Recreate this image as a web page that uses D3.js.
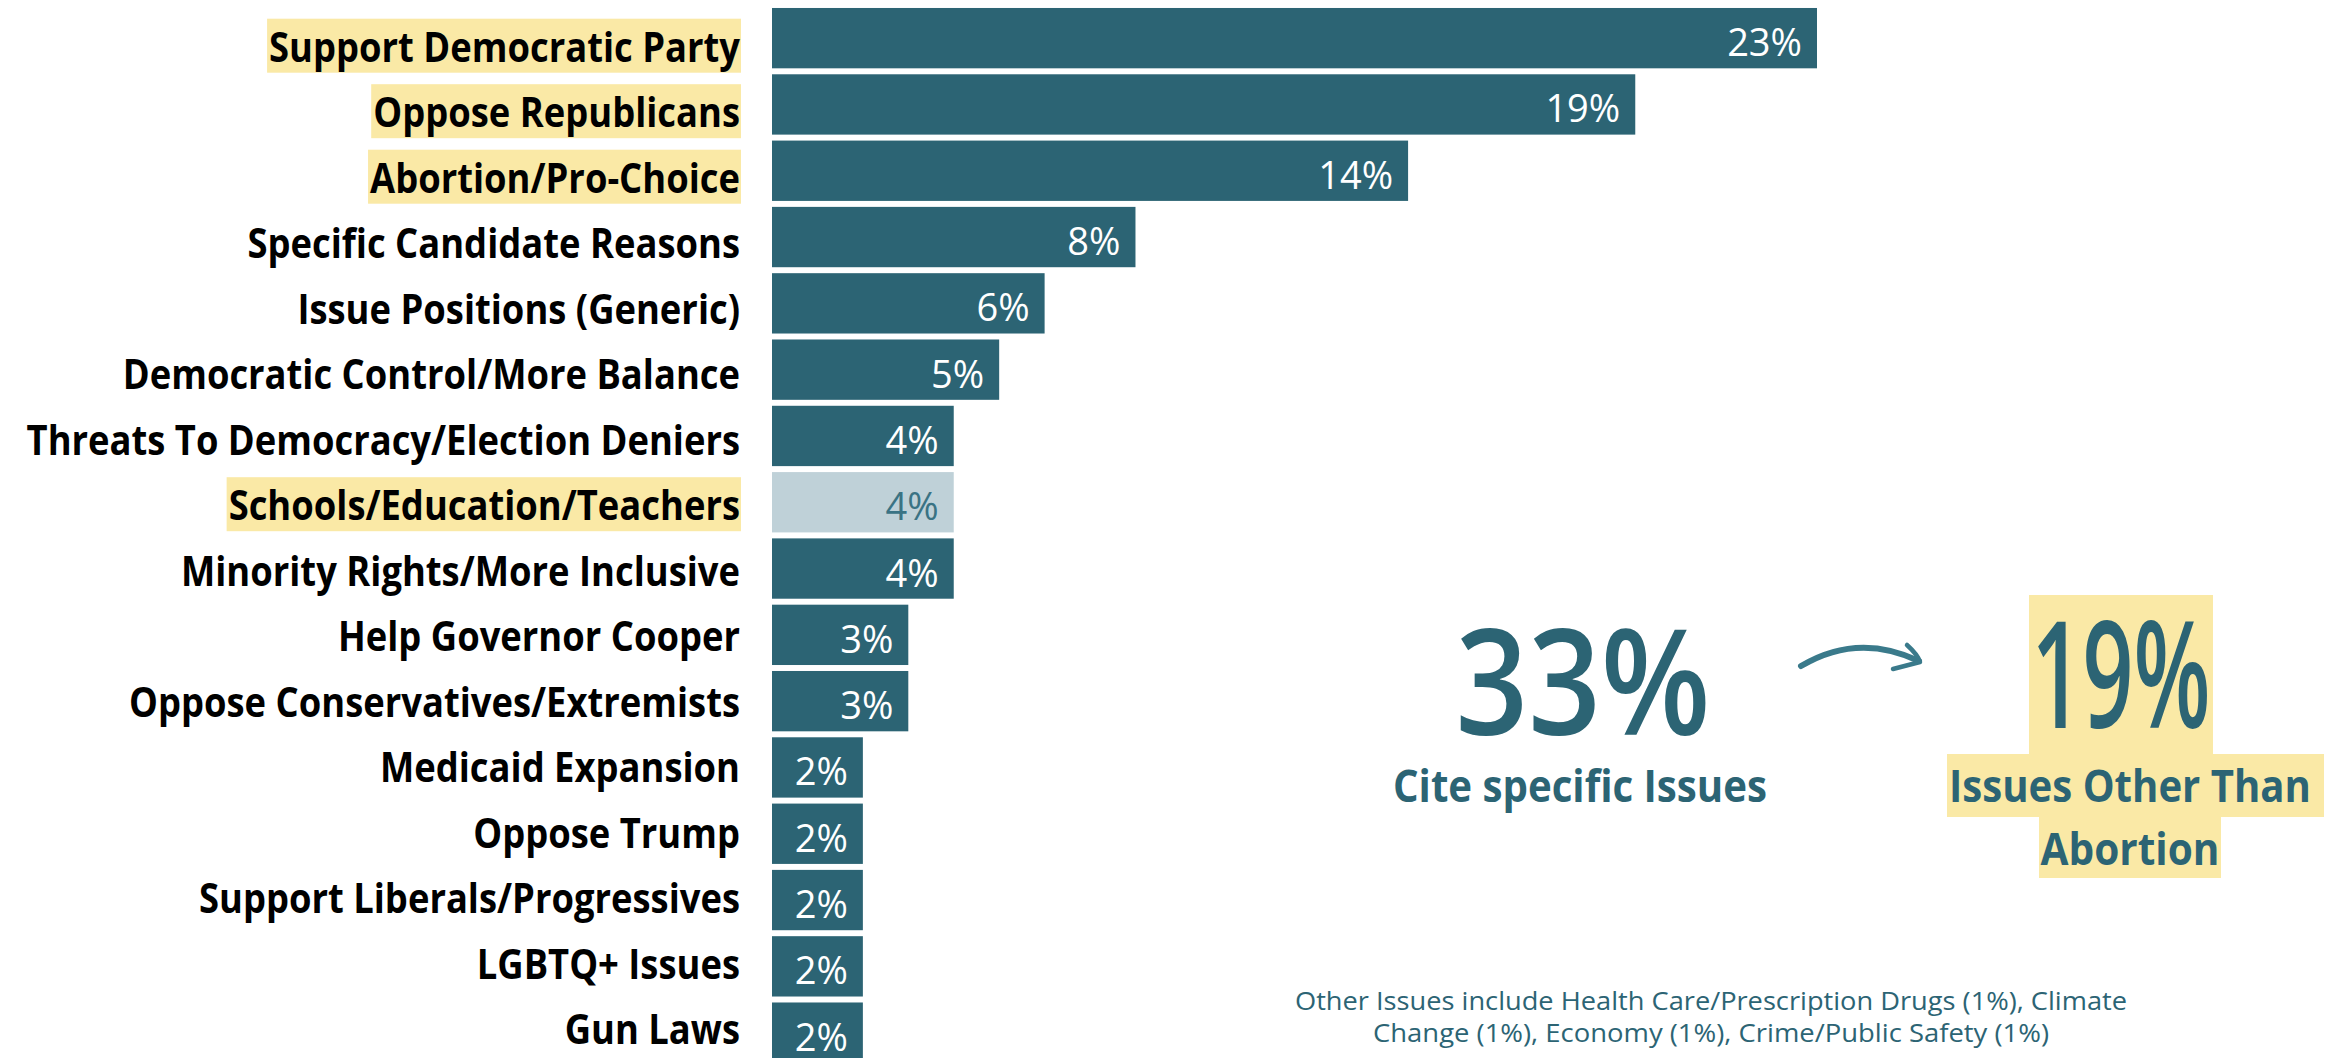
<!DOCTYPE html>
<html><head><meta charset="utf-8">
<script src="https://cdn.jsdelivr.net/npm/d3@7"></script>
<style>html,body{margin:0;padding:0;background:#fff;overflow:hidden}</style>
</head><body>
<script>
const categories = ["Support Democratic Party","Oppose Republicans","Abortion/Pro-Choice","Specific Candidate Reasons","Issue Positions (Generic)","Democratic Control/More Balance","Threats To Democracy/Election Deniers","Schools/Education/Teachers","Minority Rights/More Inclusive","Help Governor Cooper","Oppose Conservatives/Extremists","Medicaid Expansion","Oppose Trump","Support Liberals/Progressives","LGBTQ+ Issues","Gun Laws"];
const values = [23,19,14,8,6,5,4,4,4,3,3,2,2,2,2,2];
const highlighted = ["Support Democratic Party","Oppose Republicans","Abortion/Pro-Choice","Schools/Education/Teachers"];
const lightBars = ["Schools/Education/Teachers"];
const bigStat1 = "33%", bigStat1Label = "Cite specific Issues";
const bigStat2 = "19%", bigStat2Label = ["Issues Other Than","Abortion"];
const footnote = ["Other Issues include Health Care/Prescription Drugs (1%), Climate","Change (1%), Economy (1%), Crime/Public Safety (1%)"];

const W = 2339, H = 1058;
const TEAL = "#2C6474", LIGHT = "#BFD1D8", HL = "#FAE9A6";
const svg = d3.select("body").append("svg").attr("width", W).attr("height", H);

const x = d3.scaleLinear().domain([0, 23]).range([772, 1817]);
const step = 66.3;
const y = d3.scaleBand().domain(categories).range([5, 5 + step * 16]).paddingInner(0.09).paddingOuter(0.045);
// label baselines follow their own (slightly tighter) spacing
const yLab = d3.scalePoint().domain(categories).range([61.7, 1044.2]);
const data = categories.map((c, i) => ({c, v: values[i]}));

// labels
const labelG = svg.append("g");
const hlG = labelG.append("g");
const labels = labelG.selectAll("text.lab").data(data).join("text")
  .attr("class", "lab")
  .attr("text-anchor", "end")
  .style("font-family", "'Open Sans', sans-serif")
  .style("font-weight", 700)
  .style("font-size", "41px")
  .attr("fill", "#000")
  .text(d => d.c);
const w0 = labels.filter((d, i) => i === 0).node().getComputedTextLength();
const k = 471 / w0;
labels.attr("transform", d => `translate(740,${yLab(d.c)}) scale(${k},1)`);
labels.each(function(d) {
  if (!highlighted.includes(d.c)) return;
  const w = this.getComputedTextLength() * k;
  const base = yLab(d.c);
  hlG.append("rect").attr("x", 740 - w - 2).attr("y", base - 43).attr("width", w + 3).attr("height", 54).attr("fill", HL);
});

// bars
svg.append("g").selectAll("rect").data(data).join("rect")
  .attr("x", x(0)).attr("y", d => y(d.c))
  .attr("width", d => x(d.v) - x(0)).attr("height", y.bandwidth())
  .attr("fill", d => lightBars.includes(d.c) ? LIGHT : TEAL);

svg.append("g").selectAll("text").data(data).join("text")
  .attr("x", d => x(d.v) - 15)
  .attr("y", d => y(d.c) + y.bandwidth() / 2 + 18)
  .attr("text-anchor", "end")
  .style("font-family", "'Open Sans', sans-serif")
  .style("font-size", "38px")
  .attr("fill", d => lightBars.includes(d.c) ? "#3A7384" : "#fff")
  .text(d => d.v + "%");

// annotations
const ann = svg.append("g").style("font-family", "'Open Sans', sans-serif");
ann.append("text").attr("x", 1583).attr("y", 735).attr("text-anchor", "middle")
  .attr("textLength", 255).attr("lengthAdjust", "spacingAndGlyphs")
  .style("font-size", "146px").style("font-weight", 600).attr("fill", TEAL).text(bigStat1);
ann.append("text").attr("x", 1580).attr("y", 802).attr("text-anchor", "middle")
  .attr("textLength", 374).attr("lengthAdjust", "spacingAndGlyphs")
  .style("font-size", "45px").style("font-weight", 700).attr("fill", TEAL).text(bigStat1Label);

ann.append("rect").attr("x", 2029).attr("y", 595).attr("width", 184).attr("height", 160).attr("fill", HL);
ann.append("rect").attr("x", 1947).attr("y", 754).attr("width", 377).attr("height", 63).attr("fill", HL);
ann.append("rect").attr("x", 2039).attr("y", 816).attr("width", 182).attr("height", 62).attr("fill", HL);
ann.append("text").attr("x", 2121).attr("y", 728).attr("text-anchor", "middle")
  .attr("textLength", 179).attr("lengthAdjust", "spacingAndGlyphs")
  .style("font-size", "148px").style("font-weight", 600).attr("fill", TEAL).text(bigStat2);
ann.append("text").attr("x", 2130).attr("y", 802).attr("text-anchor", "middle")
  .attr("textLength", 362).attr("lengthAdjust", "spacingAndGlyphs")
  .style("font-size", "45px").style("font-weight", 700).attr("fill", TEAL).text(bigStat2Label[0]);
ann.append("text").attr("x", 2130).attr("y", 865).attr("text-anchor", "middle")
  .attr("textLength", 179).attr("lengthAdjust", "spacingAndGlyphs")
  .style("font-size", "45px").style("font-weight", 700).attr("fill", TEAL).text(bigStat2Label[1]);

// arrow
ann.append("path").attr("d", "M1801,666 Q1858,632 1919,661")
  .attr("fill", "none").attr("stroke", "#3A7A8B").attr("stroke-width", 6).attr("stroke-linecap", "round");
ann.append("path").attr("d", "M1907,645 Q1918,655 1920,662 L1893,669")
  .attr("fill", "none").attr("stroke", "#3A7A8B").attr("stroke-width", 4.5).attr("stroke-linecap", "round").attr("stroke-linejoin", "round");

// footnote
const fnW = [832, 676];
ann.selectAll("text.fn").data(footnote).join("text").attr("class", "fn")
  .attr("x", 1711).attr("y", (d, i) => 1010 + i * 32).attr("text-anchor", "middle")
  .attr("textLength", (d, i) => fnW[i]).attr("lengthAdjust", "spacingAndGlyphs")
  .style("font-size", "26px").attr("fill", TEAL).text(d => d);
</script>
</body></html>
